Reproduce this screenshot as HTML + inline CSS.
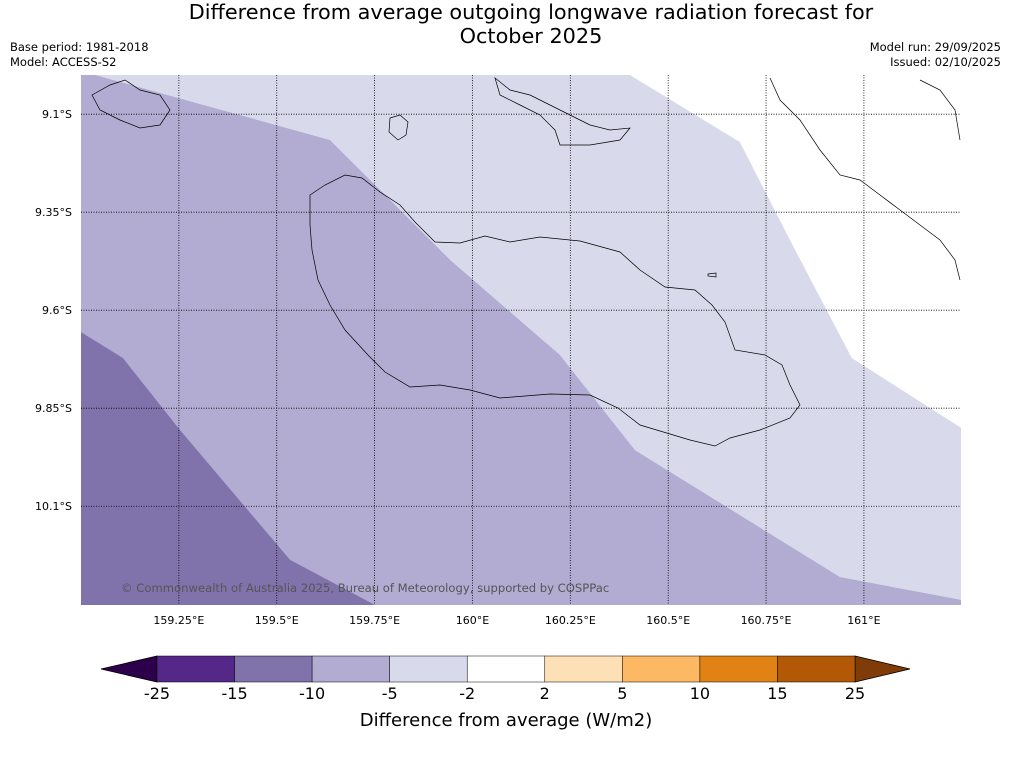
<!DOCTYPE html>
<html><head><meta charset="utf-8">
<style>
body{margin:0;background:#fff;font-family:"DejaVu Sans","Liberation Sans",sans-serif;}
#wrap{position:relative;width:1011px;height:758px;overflow:hidden;background:#fff}
.t{position:absolute;color:#000}
svg text{font-family:"DejaVu Sans","Liberation Sans",sans-serif;}
</style></head>
<body>
<div id="wrap">
<div class="t" style="left:0;width:1062px;top:0;text-align:center;font-size:20.8px;line-height:24px">Difference from average outgoing longwave radiation forecast for<br>October 2025</div>
<div class="t" style="left:10px;top:40px;font-size:11.5px;line-height:15px">Base period: 1981-2018<br>Model: ACCESS-S2</div>
<div class="t" style="right:10px;top:40px;font-size:11.5px;line-height:15px;text-align:right">Model run: 29/09/2025<br>Issued: 02/10/2025</div>
<svg id="svg" width="1011" height="758" style="position:absolute;left:0;top:0"></svg>
</div>
<script>
const lonTicks=[159.25,159.5,159.75,160,160.25,160.5,160.75,161];
const lonLabels=["159.25°E","159.5°E","159.75°E","160°E","160.25°E","160.5°E","160.75°E","161°E"];
const latTicks=[9.1,9.35,9.6,9.85,10.1];
const latLabels=["9.1°S","9.35°S","9.6°S","9.85°S","10.1°S"];
const darkLine=[[159.0,9.656],[159.107,9.722],[159.253,9.906],[159.534,10.237],[159.751,10.352]];
const midLine=[[159.036,9.0],[159.636,9.166],[159.943,9.472],[160.223,9.714],[160.415,9.957],[160.939,10.281],[161.248,10.339]];
const whiteLine=[[160.402,9.0],[160.683,9.171],[160.811,9.421],[160.969,9.722],[161.248,9.9]];
const levels=["-25","-15","-10","-5","-2","2","5","10","15","25"];
const colors=["#2d004b","#542788","#8073ac","#b2abd2","#d8daeb","#ffffff","#fee0b6","#fdb863","#e08214","#b35806","#7f3b08"];

const NS="http://www.w3.org/2000/svg",svg=document.getElementById('svg');
const X0=81,X1=961,Y0=75,Y1=605,LON0=159.0,LON1=161.248,LAT0=9.0,LAT1=10.352;
const xs=l=>X0+(l-LON0)/(LON1-LON0)*(X1-X0);
const ys=l=>Y0+(l-LAT0)/(LAT1-LAT0)*(Y1-Y0);
function el(t,a,p){const e=document.createElementNS(NS,t);for(const k in a)e.setAttribute(k,a[k]);(p||svg).appendChild(e);return e;}
function pts(arr){return arr.map(p=>xs(p[0])+','+ys(p[1])).join(' ');}
let r=el('rect',{x:X0,y:Y0,width:X1-X0,height:Y1-Y0,fill:colors[4]});


let p=el('polygon',{points:X0+','+Y0+' '+pts(midLine)+' '+X1+','+Y1+' '+X0+','+Y1,fill:colors[3]});


p=el('polygon',{points:pts(darkLine)+' '+X0+','+Y1,fill:colors[2]});


p=el('polygon',{points:pts(whiteLine)+' '+X1+','+Y0,fill:colors[5]});


const coast=[
"M310,195 L325,185 345,175 362,178 380,192 400,205 415,222 435,242 460,243 485,236 510,242 540,237 580,241 620,252 640,270 665,287 695,290 712,305 725,322 735,350 765,355 782,365 790,385 800,405 790,418 760,430 730,438 715,446 690,440 640,425 618,408 590,395 550,394 500,398 470,390 440,385 410,387 385,372 368,355 345,330 330,305 318,280 312,250 310,225 Z",
"M390,118 L400,115 408,122 406,135 398,140 389,132 Z",
"M92,95 L110,85 125,80 140,90 160,95 170,110 160,125 140,128 120,120 100,110 Z",
"M495,78 L510,90 530,95 550,105 570,115 590,125 610,130 630,128 620,140 590,145 560,145 555,130 540,115 520,105 500,95 Z",
"M770,78 L780,100 800,120 820,150 840,175 860,180 880,195 900,210 920,225 940,240 955,260 960,280",
"M920,80 L940,90 955,110 960,140",
"M708,274 L716,273 716,277 708,276 Z"];
coast.forEach(d=>{const c=el('path',{d:d,fill:'none',stroke:'#000','stroke-width':0.7});

});
lonTicks.forEach((v,i)=>{const x=xs(v);
const g=el('line',{x1:x,x2:x,y1:Y0,y2:Y1,stroke:'#000','stroke-width':0.8,'stroke-dasharray':'1,1.5'});


const t=el('text',{x:x,y:624,'text-anchor':'middle','font-size':11,fill:'#000'});t.textContent=lonLabels[i];

});
latTicks.forEach((v,i)=>{const y=ys(v);
const g=el('line',{x1:X0,x2:X1,y1:y,y2:y,stroke:'#000','stroke-width':0.8,'stroke-dasharray':'1,1.5'});


const t=el('text',{x:72,y:y+4,'text-anchor':'end','font-size':11,fill:'#000'});t.textContent=latLabels[i];

});
let cp=el('text',{x:121,y:592,'font-size':11.6,fill:'#555'});cp.textContent="© Commonwealth of Australia 2025, Bureau of Meteorology, supported by COSPPac";


const CB0=157,CB1=855,CY=656,CH=26,step=(CB1-CB0)/(levels.length-1);
let tri=el('polygon',{points:`101,${CY+CH/2} ${CB0},${CY} ${CB0},${CY+CH}`,fill:colors[0],stroke:'#000','stroke-width':0.8});


tri=el('polygon',{points:`910,${CY+CH/2} ${CB1},${CY} ${CB1},${CY+CH}`,fill:colors[10],stroke:'#000','stroke-width':0.8});


for(let i=0;i<levels.length-1;i++){
const s=el('rect',{x:CB0+i*step,y:CY,width:step,height:CH,fill:colors[i+1],stroke:'#000','stroke-width':0.5});

}
levels.forEach((v,i)=>{const t=el('text',{x:CB0+i*step,y:699,'text-anchor':'middle','font-size':16,fill:'#000'});t.textContent=v;

});
let ct=el('text',{x:506,y:726,'text-anchor':'middle','font-size':18,fill:'#000'});ct.textContent="Difference from average (W/m2)";


</script>
</body></html>
